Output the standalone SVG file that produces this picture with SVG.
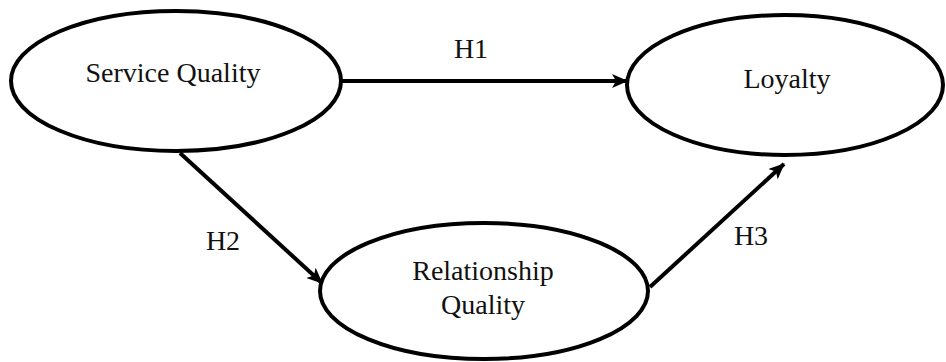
<svg xmlns="http://www.w3.org/2000/svg" width="946" height="362" viewBox="0 0 946 362">
<defs>
<style>
.node ellipse{fill:#fff;stroke:#000;stroke-width:4}
.label{font-family:'Liberation Serif','DejaVu Serif',serif;font-size:28px;fill:#111;text-anchor:middle}
.edge line{stroke:#000;stroke-width:4;marker-end:url(#arrow)}
</style>
<marker id="arrow" markerWidth="16" markerHeight="14" refX="15" refY="7" orient="auto" markerUnits="userSpaceOnUse">
<path d="M0,0 L16,7 L0,14 L4,7 Z" fill="#000"/>
</marker>
</defs>
<rect width="946" height="362" fill="#fff"/>
<g id="connectors" class="edge">
<line x1="342" y1="81" x2="627" y2="81"/>
<line x1="180" y1="153" x2="322" y2="283"/>
<line x1="650" y1="287" x2="784" y2="164"/>
</g>
<g id="edge-labels">
<text class="label" x="471" y="58">H1</text>
<text class="label" x="223" y="250">H2</text>
<text class="label" x="751" y="245">H3</text>
</g>
<g id="service-quality" class="node">
<ellipse cx="176" cy="81" rx="165" ry="70"/>
<text class="label" x="173" y="82">Service Quality</text>
</g>
<g id="loyalty" class="node">
<ellipse cx="785" cy="85" rx="158" ry="70"/>
<text class="label" x="787" y="88">Loyalty</text>
</g>
<g id="relationship-quality" class="node">
<ellipse cx="484" cy="291" rx="164" ry="68"/>
<text class="label" x="483" y="280">Relationship</text>
<text class="label" x="483" y="314">Quality</text>
</g>
</svg>
